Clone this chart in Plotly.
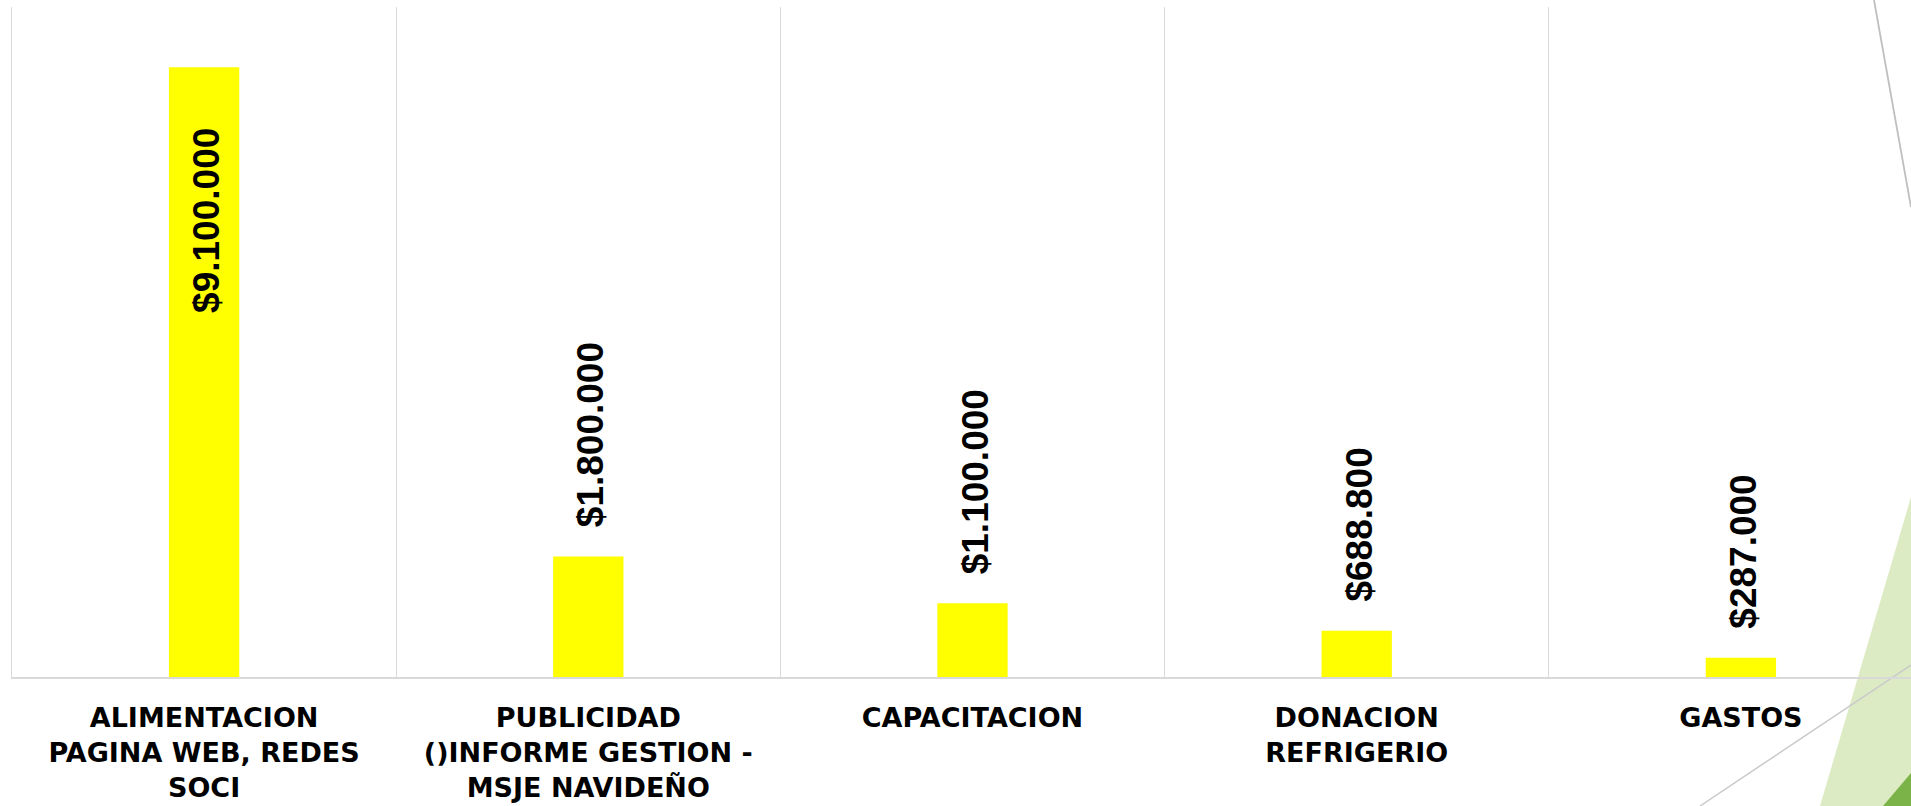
import plotly.graph_objects as go

# ---- data ----
categories = [
    "ALIMENTACION<br>PAGINA WEB, REDES<br>SOCI",
    "PUBLICIDAD<br>()INFORME GESTION -<br>MSJE NAVIDEÑO",
    "CAPACITACION",
    "DONACION<br>REFRIGERIO",
    "GASTOS",
]
values = [9100000, 1800000, 1100000, 688800, 287000]
y_max = 10000000

W, H = 1911, 806
ML, MR, MT, MB = 12, 0, 7, 129


def fmt(v):
    return "$" + f"{v:,.0f}".replace(",", ".")


labels = [fmt(v) for v in values]

fig = go.Figure()
fig.add_trace(go.Bar(
    x=categories,
    y=values,
    marker=dict(color="#FFFF00", line=dict(width=0)),
    hoverinfo="x+y",
    showlegend=False,
))

# value labels (rotated)
vmax = max(values)
for c, v, t in zip(categories, values, labels):
    inside = v > 0.5 * vmax
    fig.add_annotation(
        x=c, y=v, xref="x", yref="y",
        text=t, textangle=-90, showarrow=False,
        xanchor="center",
        yanchor="top" if inside else "bottom",
        yshift=-59 if inside else 27,
        xshift=3,
        font=dict(family="Liberation Sans", size=37, color="#000000", weight="bold"),
    )

# slide decoration (background theme shapes), in pixel -> paper coordinates
pw = W - ML - MR
ph = H - MT - MB


def px(X):
    return (X - ML) / pw


def py(Y):
    return (H - MB - Y) / ph


def path(pts):
    return "M " + " L ".join(f"{px(a):.5f} {py(b):.5f}" for a, b in pts) + " Z"


fig.add_shape(type="path", xref="paper", yref="paper", layer="below",
              path=path([(1911, 497), (1820, 806), (1911, 806)]),
              fillcolor="#DDEBC4", line=dict(width=0))
fig.add_shape(type="path", xref="paper", yref="paper", layer="below",
              path=path([(1911, 773), (1883, 806), (1911, 806)]),
              fillcolor="#7BB348", line=dict(width=0))
fig.add_shape(type="line", xref="paper", yref="paper", layer="below",
              x0=px(1700), y0=py(806), x1=px(1911), y1=py(665),
              line=dict(color="#C9C9C9", width=1.5))
fig.add_shape(type="line", xref="paper", yref="paper", layer="below",
              x0=px(1874), y0=py(0), x1=px(1911), y1=py(207),
              line=dict(color="#BFBFBF", width=1.8))

cat_px = 384.2
fig.update_layout(
    width=W, height=H,
    margin=dict(l=ML, r=MR, t=MT, b=MB, autoexpand=False),
    paper_bgcolor="#FFFFFF",
    plot_bgcolor="rgba(0,0,0,0)",
    bargap=0.817,
    xaxis=dict(
        type="category",
        range=[-0.5, -0.5 + pw / cat_px],
        tickson="boundaries",
        showgrid=True, gridcolor="#D9D9D9", gridwidth=1.3,
        showline=True, linecolor="#D9D9D9", linewidth=1.5,
        ticks="", tickangle=0,
        ticklabelstandoff=16,
        tickfont=dict(family="DejaVu Sans", size=27, color="#000000", weight="bold"),
        fixedrange=True,
    ),
    yaxis=dict(
        range=[0, y_max],
        showgrid=False, zeroline=False,
        showticklabels=False, ticks="",
        showline=True, linecolor="#D9D9D9", linewidth=1.3,
        fixedrange=True,
    ),
)

fig.write_html(
    "out.html",
    config={"displayModeBar": False},
    post_script="document.body.style.margin='0';document.body.style.overflow='hidden';",
)
